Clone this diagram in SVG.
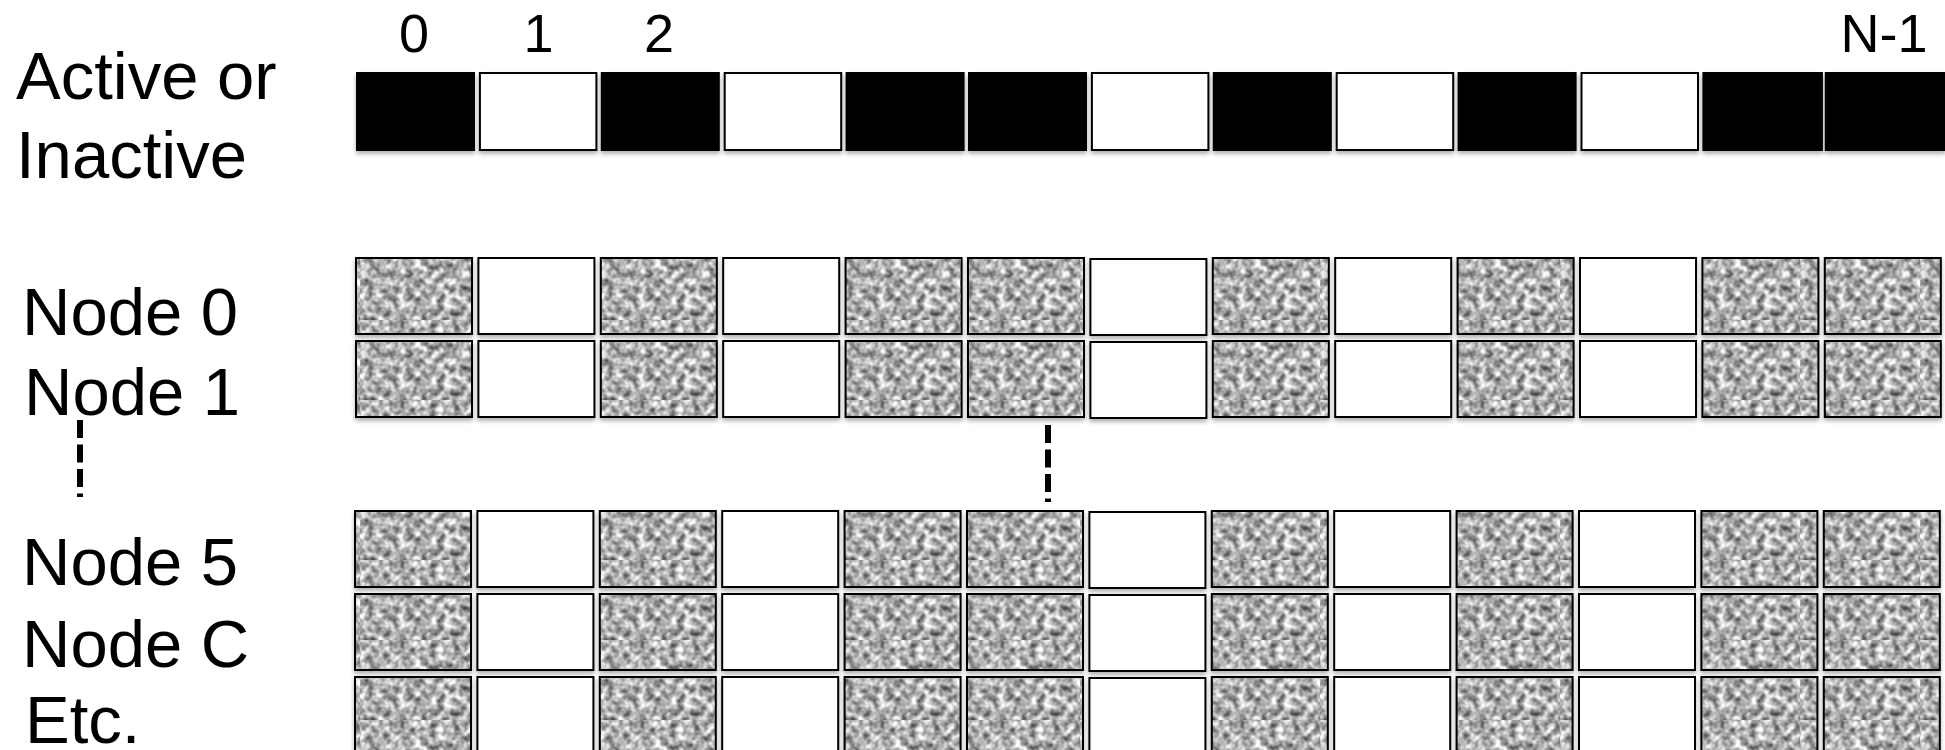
<svg xmlns="http://www.w3.org/2000/svg" width="1945" height="750" viewBox="0 0 1945 750">
<defs>
<filter id="noise" x="0" y="0" width="100%" height="100%" color-interpolation-filters="sRGB">
<feTurbulence type="fractalNoise" baseFrequency="0.13" numOctaves="2" seed="7"/>
<feColorMatrix type="matrix" values="1.25 0 0 0 0.06  1.25 0 0 0 0.06  1.25 0 0 0 0.06  0 0 0 0 1"/>
<feGaussianBlur stdDeviation="0.7"/>
</filter>
<pattern id="tex" patternUnits="userSpaceOnUse" width="120" height="80">
<rect width="120" height="80" filter="url(#noise)"/>
</pattern>
<filter id="sh" x="-2%" y="-10%" width="104%" height="130%">
<feDropShadow dx="0" dy="3" stdDeviation="2" flood-color="#000" flood-opacity="0.3"/>
</filter>
</defs>
<style>
text{font-family:"Liberation Sans",Arial,sans-serif;fill:#000}
.lbl{font-size:67px}
.idx{font-size:54px;text-anchor:middle}
.blk{fill:#000}
.wt{fill:#fff;stroke:#000;stroke-width:2}
.gr{fill:url(#tex);stroke:#000;stroke-width:2}
.row{filter:url(#sh)}
.dash{stroke:#000;stroke-width:6;stroke-dasharray:18 6.5;fill:none}
</style>
<rect width="1945" height="750" fill="#fff"/>

<g id="indices">
<text class="idx" x="414" y="52">0</text>
<text class="idx" x="538.5" y="52">1</text>
<text class="idx" x="659" y="52">2</text>
<text class="idx" x="1884" y="52">N-1</text>
</g>

<g id="active-row">
<text class="lbl" x="16" y="99">Active or</text>
<text class="lbl" x="16" y="178">Inactive</text>
<g class="row">
<rect class="blk" x="356" y="72" width="119" height="79"/>
<rect class="wt" x="479.9" y="73" width="116.5" height="77"/>
<rect class="blk" x="600.8" y="72" width="119" height="79"/>
<rect class="wt" x="724.7" y="73" width="116.5" height="77"/>
<rect class="blk" x="845.6" y="72" width="119" height="79"/>
<rect class="blk" x="968" y="72" width="119" height="79"/>
<rect class="wt" x="1091.9" y="73" width="116.5" height="77"/>
<rect class="blk" x="1212.8" y="72" width="119" height="79"/>
<rect class="wt" x="1336.7" y="73" width="116.5" height="77"/>
<rect class="blk" x="1457.6" y="72" width="119" height="79"/>
<rect class="wt" x="1581.5" y="73" width="116.5" height="77"/>
<rect class="blk" x="1702.4" y="72" width="120.5" height="79"/>
<rect class="blk" x="1824.8" y="72" width="121" height="79"/>
</g>
</g>

<g id="node-0">
<text class="lbl" x="22" y="335">Node 0</text>
<g class="row">
<rect class="gr" x="356" y="258" width="116" height="76"/>
<rect class="wt" x="478.4" y="258" width="116" height="76"/>
<rect class="gr" x="600.8" y="258" width="116" height="76"/>
<rect class="wt" x="723.2" y="258" width="116" height="76"/>
<rect class="gr" x="845.6" y="258" width="116" height="76"/>
<rect class="gr" x="968" y="258" width="116" height="76"/>
<rect class="wt" x="1090.4" y="259" width="116" height="76"/>
<rect class="gr" x="1212.8" y="258" width="116" height="76"/>
<rect class="wt" x="1335.2" y="258" width="116" height="76"/>
<rect class="gr" x="1457.6" y="258" width="116" height="76"/>
<rect class="wt" x="1580" y="258" width="116" height="76"/>
<rect class="gr" x="1702.4" y="258" width="116" height="76"/>
<rect class="gr" x="1824.8" y="258" width="116" height="76"/>
</g>
</g>

<g id="node-1">
<text class="lbl" x="24" y="415">Node 1</text>
<g class="row">
<rect class="gr" x="356" y="341" width="116" height="76"/>
<rect class="wt" x="478.4" y="341" width="116" height="76"/>
<rect class="gr" x="600.8" y="341" width="116" height="76"/>
<rect class="wt" x="723.2" y="341" width="116" height="76"/>
<rect class="gr" x="845.6" y="341" width="116" height="76"/>
<rect class="gr" x="968" y="341" width="116" height="76"/>
<rect class="wt" x="1090.4" y="342" width="116" height="76"/>
<rect class="gr" x="1212.8" y="341" width="116" height="76"/>
<rect class="wt" x="1335.2" y="341" width="116" height="76"/>
<rect class="gr" x="1457.6" y="341" width="116" height="76"/>
<rect class="wt" x="1580" y="341" width="116" height="76"/>
<rect class="gr" x="1702.4" y="341" width="116" height="76"/>
<rect class="gr" x="1824.8" y="341" width="116" height="76"/>
</g>
</g>

<g id="node-5">
<text class="lbl" x="22" y="585">Node 5</text>
<g class="row">
<rect class="gr" x="355" y="511" width="116" height="76"/>
<rect class="wt" x="477.4" y="511" width="116" height="76"/>
<rect class="gr" x="599.8" y="511" width="116" height="76"/>
<rect class="wt" x="722.2" y="511" width="116" height="76"/>
<rect class="gr" x="844.6" y="511" width="116" height="76"/>
<rect class="gr" x="967" y="511" width="116" height="76"/>
<rect class="wt" x="1089.4" y="512" width="116" height="76"/>
<rect class="gr" x="1211.8" y="511" width="116" height="76"/>
<rect class="wt" x="1334.2" y="511" width="116" height="76"/>
<rect class="gr" x="1456.6" y="511" width="116" height="76"/>
<rect class="wt" x="1579" y="511" width="116" height="76"/>
<rect class="gr" x="1701.4" y="511" width="116" height="76"/>
<rect class="gr" x="1823.8" y="511" width="116" height="76"/>
</g>
</g>

<g id="node-c">
<text class="lbl" x="22" y="667">Node C</text>
<g class="row">
<rect class="gr" x="355" y="594" width="116" height="76"/>
<rect class="wt" x="477.4" y="594" width="116" height="76"/>
<rect class="gr" x="599.8" y="594" width="116" height="76"/>
<rect class="wt" x="722.2" y="594" width="116" height="76"/>
<rect class="gr" x="844.6" y="594" width="116" height="76"/>
<rect class="gr" x="967" y="594" width="116" height="76"/>
<rect class="wt" x="1089.4" y="595" width="116" height="76"/>
<rect class="gr" x="1211.8" y="594" width="116" height="76"/>
<rect class="wt" x="1334.2" y="594" width="116" height="76"/>
<rect class="gr" x="1456.6" y="594" width="116" height="76"/>
<rect class="wt" x="1579" y="594" width="116" height="76"/>
<rect class="gr" x="1701.4" y="594" width="116" height="76"/>
<rect class="gr" x="1823.8" y="594" width="116" height="76"/>
</g>
</g>

<g id="node-etc">
<text class="lbl" x="25" y="743">Etc.</text>
<g class="row">
<rect class="gr" x="355" y="677" width="116" height="80"/>
<rect class="wt" x="477.4" y="677" width="116" height="80"/>
<rect class="gr" x="599.8" y="677" width="116" height="80"/>
<rect class="wt" x="722.2" y="677" width="116" height="80"/>
<rect class="gr" x="844.6" y="677" width="116" height="80"/>
<rect class="gr" x="967" y="677" width="116" height="80"/>
<rect class="wt" x="1089.4" y="678" width="116" height="80"/>
<rect class="gr" x="1211.8" y="677" width="116" height="80"/>
<rect class="wt" x="1334.2" y="677" width="116" height="80"/>
<rect class="gr" x="1456.6" y="677" width="116" height="80"/>
<rect class="wt" x="1579" y="677" width="116" height="80"/>
<rect class="gr" x="1701.4" y="677" width="116" height="80"/>
<rect class="gr" x="1823.8" y="677" width="116" height="80"/>
</g>
</g>

<g id="connectors">
<line class="dash" x1="80" y1="420" x2="80" y2="497"/>
<line class="dash" x1="1048" y1="425" x2="1048" y2="502"/>
</g>
</svg>
